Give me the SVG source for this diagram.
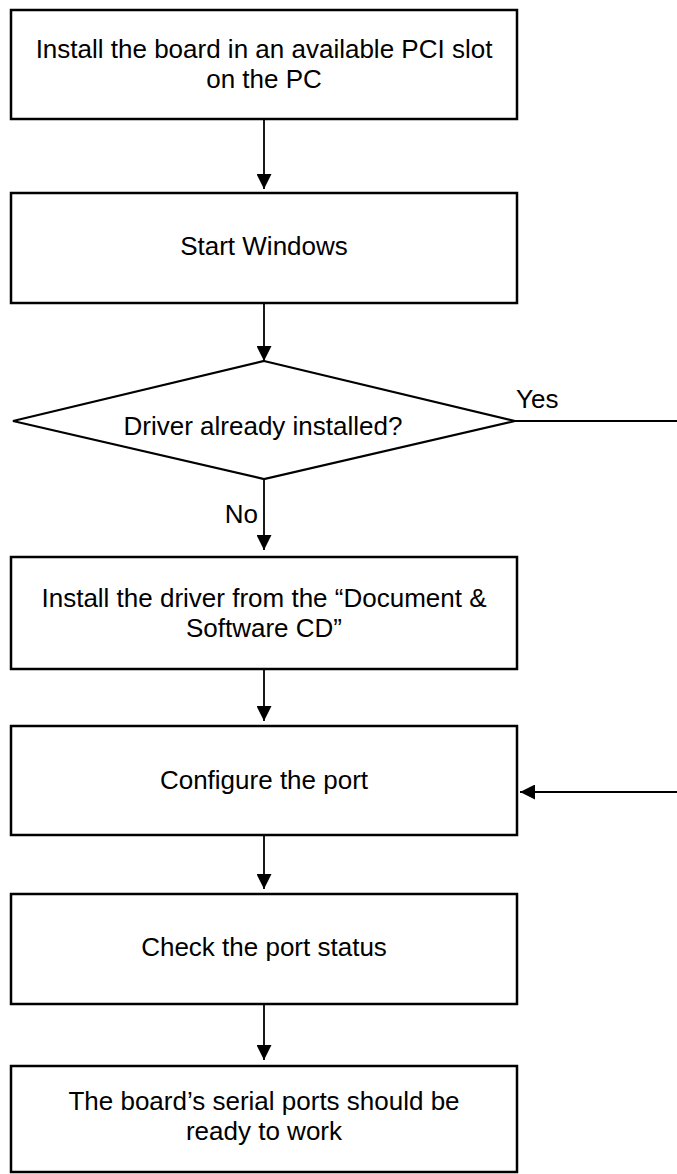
<svg xmlns="http://www.w3.org/2000/svg" width="677" height="1174" viewBox="0 0 677 1174">
<style>
.box{fill:#fff;stroke:#000;stroke-width:2.5}
.dia{fill:#fff;stroke:#000;stroke-width:2.2}
.con{fill:none;stroke:#000;stroke-width:1.8}
text{font-family:"Liberation Sans",Arial,sans-serif;font-size:26px;fill:#000}
.c{text-anchor:middle}
</style>
<defs>
<marker id="ah" markerUnits="userSpaceOnUse" markerWidth="15" markerHeight="15" refX="15" refY="7.5" orient="auto">
<path d="M0,0 L15,7.5 L0,15 Z" fill="#000"/>
</marker>
</defs>
<rect width="677" height="1174" fill="#fff"/>
<g id="connectors">
<path class="con" d="M264,119 V189" marker-end="url(#ah)"/>
<path class="con" d="M264,303 V361" marker-end="url(#ah)"/>
<path class="con" d="M264,479 V550" marker-end="url(#ah)"/>
<path class="con" d="M264,669 V721" marker-end="url(#ah)"/>
<path class="con" d="M264,835 V889" marker-end="url(#ah)"/>
<path class="con" d="M264,1004 V1060" marker-end="url(#ah)"/>
<path class="con" d="M515,421 H677"/>
<path class="con" d="M677,792 H520" marker-end="url(#ah)"/>
<text x="516" y="408">Yes</text>
<text x="258" y="523" text-anchor="end">No</text>
</g>
<g id="n1">
<rect class="box" x="11" y="10" width="506" height="109"/>
<text class="c" x="264" y="58">Install the board in an available PCI slot</text>
<text class="c" x="264" y="88">on the PC</text>
</g>
<g id="n2">
<rect class="box" x="11" y="193" width="506" height="110"/>
<text class="c" x="264" y="255">Start Windows</text>
</g>
<g id="n3">
<polygon class="dia" points="264,361 515,421 264,479 13,421"/>
<text class="c" x="263" y="435">Driver already installed?</text>
</g>
<g id="n4">
<rect class="box" x="11" y="557" width="506" height="112"/>
<text class="c" x="264" y="607">Install the driver from the “Document &amp;</text>
<text class="c" x="264" y="637">Software CD”</text>
</g>
<g id="n5">
<rect class="box" x="11" y="726" width="506" height="109"/>
<text class="c" x="264" y="789">Configure the port</text>
</g>
<g id="n6">
<rect class="box" x="11" y="894" width="506" height="110"/>
<text class="c" x="264" y="956">Check the port status</text>
</g>
<g id="n7">
<rect class="box" x="11" y="1066" width="506" height="106"/>
<text class="c" x="264" y="1110">The board’s serial ports should be</text>
<text class="c" x="264" y="1140">ready to work</text>
</g>
</svg>
